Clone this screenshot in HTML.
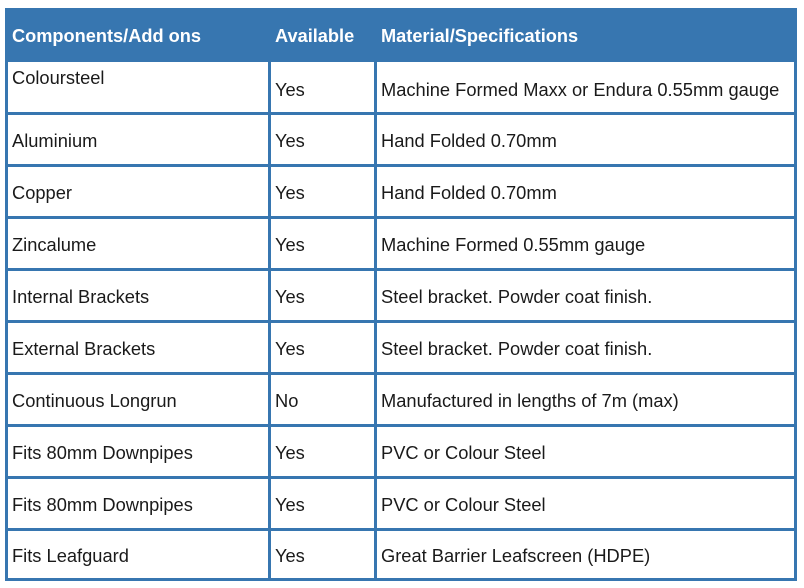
<!DOCTYPE html>
<html><head><style>
body{margin:0;width:804px;height:588px;background:#fff;position:relative;overflow:hidden;font-family:"Liberation Sans",sans-serif;}
.hd{position:absolute;left:5px;top:8px;width:791px;height:54px;background:#3776b0;}
.h{position:absolute;top:26px;color:#fff;font-weight:bold;font-size:18.2px;}
.hl{position:absolute;background:#3776b0;}
.t{position:absolute;font-size:18.3px;color:#1a1a1a;margin-top:-1px;}
</style></head><body>
<div class="hd"></div>
<div class="h" style="left:12px">Components/Add ons</div>
<div class="h" style="left:275px">Available</div>
<div class="h" style="left:381px">Material/Specifications</div>
<div class="hl" style="left:5px;top:8px;width:3px;height:573px"></div>
<div class="hl" style="left:794px;top:8px;width:3px;height:573px"></div>
<div class="hl" style="left:268px;top:60px;width:3px;height:521px"></div>
<div class="hl" style="left:374px;top:60px;width:3px;height:521px"></div>
<div class="hl" style="left:5px;top:112px;width:792px;height:3px"></div>
<div class="hl" style="left:5px;top:164px;width:792px;height:3px"></div>
<div class="hl" style="left:5px;top:216px;width:792px;height:3px"></div>
<div class="hl" style="left:5px;top:268px;width:792px;height:3px"></div>
<div class="hl" style="left:5px;top:320px;width:792px;height:3px"></div>
<div class="hl" style="left:5px;top:372px;width:792px;height:3px"></div>
<div class="hl" style="left:5px;top:424px;width:792px;height:3px"></div>
<div class="hl" style="left:5px;top:476px;width:792px;height:3px"></div>
<div class="hl" style="left:5px;top:528px;width:792px;height:3px"></div>
<div class="hl" style="left:5px;top:578px;width:792px;height:3px"></div>

<div class="t" style="left:12px;top:68px">Coloursteel</div>
<div class="t" style="left:275px;top:80px">Yes</div>
<div class="t" style="left:381px;top:80px">Machine Formed Maxx or Endura 0.55mm gauge</div>

<div class="t" style="left:12px;top:131px">Aluminium</div><div class="t" style="left:275px;top:131px">Yes</div><div class="t" style="left:381px;top:131px">Hand Folded 0.70mm</div>
<div class="t" style="left:12px;top:183px">Copper</div><div class="t" style="left:275px;top:183px">Yes</div><div class="t" style="left:381px;top:183px">Hand Folded 0.70mm</div>
<div class="t" style="left:12px;top:235px">Zincalume</div><div class="t" style="left:275px;top:235px">Yes</div><div class="t" style="left:381px;top:235px">Machine Formed 0.55mm gauge</div>
<div class="t" style="left:12px;top:287px">Internal Brackets</div><div class="t" style="left:275px;top:287px">Yes</div><div class="t" style="left:381px;top:287px">Steel bracket. Powder coat finish.</div>
<div class="t" style="left:12px;top:339px">External Brackets</div><div class="t" style="left:275px;top:339px">Yes</div><div class="t" style="left:381px;top:339px">Steel bracket. Powder coat finish.</div>
<div class="t" style="left:12px;top:391px">Continuous Longrun</div><div class="t" style="left:275px;top:391px">No</div><div class="t" style="left:381px;top:391px">Manufactured in lengths of 7m (max)</div>
<div class="t" style="left:12px;top:443px">Fits 80mm Downpipes</div><div class="t" style="left:275px;top:443px">Yes</div><div class="t" style="left:381px;top:443px">PVC or Colour Steel</div>
<div class="t" style="left:12px;top:495px">Fits 80mm Downpipes</div><div class="t" style="left:275px;top:495px">Yes</div><div class="t" style="left:381px;top:495px">PVC or Colour Steel</div>
<div class="t" style="left:12px;top:546px">Fits Leafguard</div><div class="t" style="left:275px;top:546px">Yes</div><div class="t" style="left:381px;top:546px">Great Barrier Leafscreen (HDPE)</div>
</body></html>
